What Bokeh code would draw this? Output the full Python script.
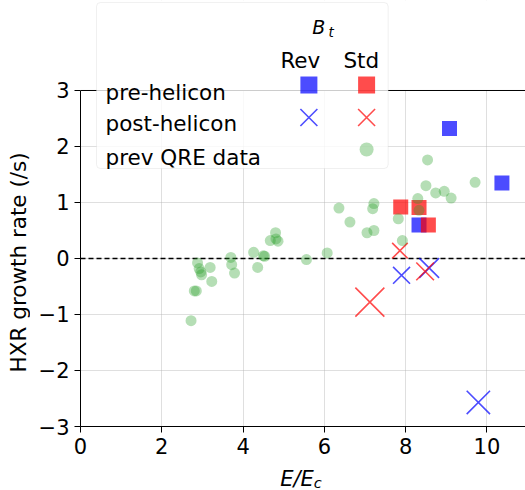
import math
from bokeh.plotting import figure
from bokeh.layouts import column, row
from bokeh.models import Span, BoxAnnotation, Label, FixedTicker, Range1d
from bokeh.embed import file_html
from bokeh.resources import INLINE

# ---- data ----
qre_x = [2.72, 2.80, 2.85, 2.88, 2.92, 2.96, 2.98, 3.19, 3.23, 3.70, 3.72, 3.79,
         4.26, 4.36, 4.50, 4.53, 4.67, 4.80, 4.81, 4.86, 5.56, 6.07, 6.36, 6.63,
         7.05, 7.19, 7.22, 7.22, 7.82, 7.92, 8.30, 8.33, 8.50, 8.54, 8.74, 8.95,
         9.12, 9.71]
qre_y = [-1.11, -0.58, -0.58, -0.08, -0.18, -0.24, -0.29, -0.16, -0.41, 0.02, -0.11, -0.26,
         0.11, -0.16, 0.05, 0.04, 0.32, 0.46, 0.35, 0.31, -0.02, 0.10, 0.90, 0.65,
         0.46, 0.89, 0.98, 0.50, 0.71, 0.32, 1.07, 0.86, 1.30, 1.76, 1.17, 1.20,
         1.08, 1.36]

pre_rev_x = [9.08, 10.37, 8.33]
pre_rev_y = [2.32, 1.35, 0.60]
pre_std_x = [7.88, 8.33, 8.56]
pre_std_y = [0.92, 0.91, 0.60]

post_rev_x = [7.90, 8.58, 9.79]
post_rev_y = [-0.30, -0.17, -2.57]
post_rev_size = [24, 28, 33]
post_std_x = [7.86, 8.48, 7.12]
post_std_y = [0.14, -0.23, -0.78]
post_std_size = [22, 25, 41]

x_ticks = [0, 2, 4, 6, 8, 10]
y_ticks = [-3, -2, -1, 0, 1, 2, 3]
legend_rows = ["pre-helicon", "post-helicon", "prev QRE data"]
legend_cols = ["Rev", "Std"]

FONT = "DejaVu Sans"
BLUE = "blue"
RED = "red"
GREEN = "#2ca02c"

x_range = Range1d(0, 10.95)
y_range = Range1d(-3, 4.607)
MAIN_H = 463
BOTTOM = 37

p = figure(width=495, height=MAIN_H, x_range=x_range, y_range=y_range,
           output_backend="svg", toolbar_location=None,
           min_border_left=50, min_border_right=0, min_border_top=0, min_border_bottom=BOTTOM)
p.outline_line_color = None
p.background_fill_color = "white"

# axes
p.xaxis.ticker = FixedTicker(ticks=x_ticks)
p.yaxis.ticker = FixedTicker(ticks=y_ticks)
p.yaxis.bounds = (-3, 3)
p.yaxis.major_label_overrides = {t: (("\u2212%d" % -t) if t < 0 else str(t)) for t in y_ticks}
for ax in (p.xaxis, p.yaxis):
    ax.axis_line_color = "black"
    ax.axis_line_width = 1
    ax.major_tick_line_color = "black"
    ax.major_tick_out = 6
    ax.major_tick_in = 0
    ax.minor_tick_line_color = None
    ax.major_label_text_font = FONT
    ax.major_label_text_font_size = "21px"
    ax.major_label_text_color = "black"
    ax.major_label_standoff = 5

p.grid.grid_line_color = "#b0b0b0"
p.grid.grid_line_alpha = 0.4
p.grid.grid_line_width = 1

# hide the area above the axes box (y > 3)
p.add_layout(BoxAnnotation(bottom=3, fill_color="white", fill_alpha=1.0,
                           line_color=None, level="underlay"))
p.add_layout(Span(location=3, dimension="width", line_color="black",
                  line_width=1, level="underlay"))
p.add_layout(Span(location=0, dimension="width", line_color="black",
                  line_width=1.4, line_dash="5 3", level="underlay"))

# data
p.scatter(pre_rev_x, pre_rev_y, marker="square", size=15, fill_color=BLUE,
          fill_alpha=0.7, line_color=None)
p.scatter(pre_std_x, pre_std_y, marker="square", size=15, fill_color=RED,
          fill_alpha=0.7, line_color=None)
p.scatter(post_rev_x, post_rev_y, marker="x", size=post_rev_size, line_color=BLUE,
          line_alpha=0.7, line_width=1.6)
p.scatter(post_std_x, post_std_y, marker="x", size=post_std_size, line_color=RED,
          line_alpha=0.7, line_width=1.6)
p.scatter(qre_x, qre_y, marker="circle", size=11, fill_color=GREEN,
          fill_alpha=0.35, line_color=None)

# legend (custom table layout)
p.add_layout(BoxAnnotation(left=0.394, right=7.57, bottom=1.607, top=4.571,
                           fill_color="white", fill_alpha=0.8, line_color="#cccccc",
                           line_width=1, border_radius=4, level="annotation"))
col_x = [5.62, 7.04]
row_y = [3.098, 2.518, 1.946]
row_base = [2.964, 2.41, 1.80]
p.scatter([col_x[0]], [row_y[0]], marker="square", size=17, fill_color=BLUE,
          fill_alpha=0.7, line_color=None, level="overlay")
p.scatter([col_x[1]], [row_y[0]], marker="square", size=17, fill_color=RED,
          fill_alpha=0.7, line_color=None, level="overlay")
p.scatter([col_x[0]], [row_y[1]], marker="x", size=24, line_color=BLUE,
          line_alpha=0.7, line_width=1.6, level="overlay")
p.scatter([col_x[1]], [row_y[1]], marker="x", size=24, line_color=RED,
          line_alpha=0.7, line_width=1.6, level="overlay")
p.scatter([col_x[1]], [row_y[2]], marker="circle", size=14, fill_color=GREEN,
          fill_alpha=0.35, line_color=None, level="overlay")

for txt, yb in zip(legend_rows, row_base):
    p.add_layout(Label(x=0.615, y=yb, text=txt, text_font=FONT, text_font_size="21.5px",
                       text_baseline="alphabetic", text_align="left", text_color="black",
                       level="overlay"))
for txt, xc in zip(legend_cols, [5.41, 6.91]):
    p.add_layout(Label(x=xc, y=3.536, text=txt, text_font=FONT, text_font_size="21.5px",
                       text_baseline="alphabetic", text_align="center", text_color="black",
                       level="overlay"))
p.add_layout(Label(x=5.70, y=4.125, text="B", text_font=FONT, text_font_size="19px",
                   text_font_style="italic", text_baseline="alphabetic", text_align="left",
                   text_color="black", level="overlay"))
p.add_layout(Label(x=6.10, y=4.05, text="t", text_font=FONT, text_font_size="13.5px",
                   text_font_style="italic", text_baseline="alphabetic", text_align="left",
                   text_color="black", level="overlay"))

# y-axis label strip (left of the main plot, same y scale)
pl = figure(width=30, height=MAIN_H, x_range=Range1d(0, 30), y_range=y_range,
            output_backend="svg", toolbar_location=None,
            x_axis_location=None, y_axis_location=None,
            min_border_left=0, min_border_right=0, min_border_top=0, min_border_bottom=BOTTOM)
pl.outline_line_color = None
pl.grid.visible = False
pl.add_layout(Label(x=18, y=-0.07, text="HXR growth rate (/s)", text_font=FONT,
                    text_font_size="21.5px", angle=math.pi / 2, text_align="center",
                    text_baseline="middle", text_color="black"))

# x-axis label strip (below the main plot, same x scale)
p2 = figure(width=525, height=490 - MAIN_H, x_range=x_range, y_range=Range1d(0, 490 - MAIN_H),
            output_backend="svg", toolbar_location=None,
            x_axis_location=None, y_axis_location=None,
            min_border_left=80, min_border_right=0, min_border_top=0, min_border_bottom=0)
p2.outline_line_color = None
p2.grid.visible = False
p2.add_layout(Label(x=5.74, y=11.5, text="E/E", text_font=FONT, text_font_size="21px",
                    text_font_style="italic", text_align="right", text_baseline="alphabetic",
                    text_color="black"))
p2.add_layout(Label(x=5.74, y=8, text="c", text_font=FONT, text_font_size="14.5px",
                    text_font_style="italic", text_align="left", text_baseline="alphabetic",
                    text_color="black"))

layout = column(row(pl, p, spacing=0), p2, spacing=0)
open("out.html", "w").write(file_html(layout, INLINE))
